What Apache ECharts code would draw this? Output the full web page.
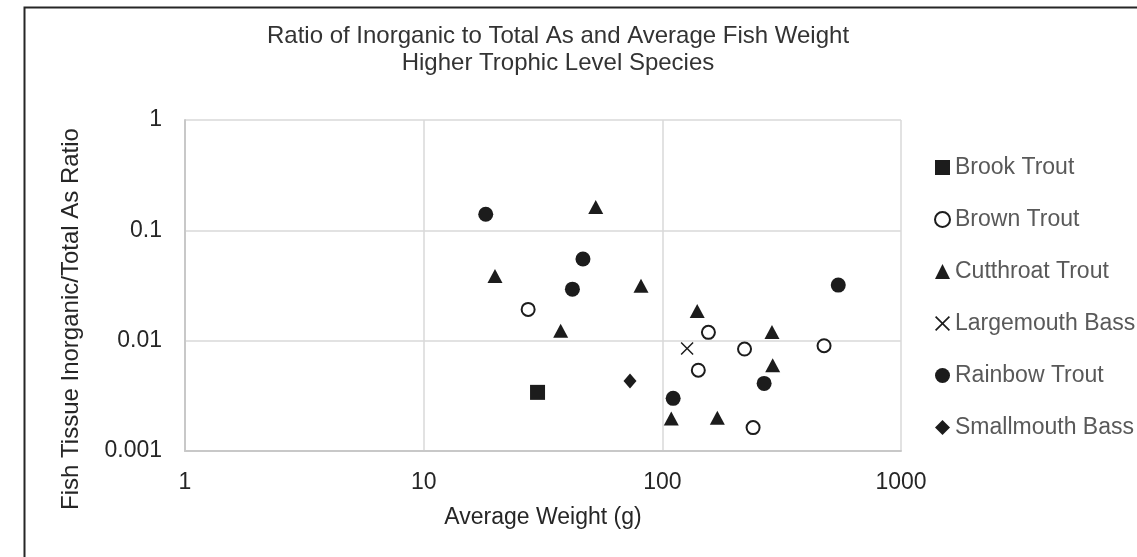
<!DOCTYPE html>
<html>
<head>
<meta charset="utf-8">
<script src="https://cdn.jsdelivr.net/npm/echarts@6/dist/echarts.min.js"></script>
<style>
  html, body { margin: 0; padding: 0; background: #fff; }
  #container { width: 1137px; height: 557px; }
</style>
</head>
<body>
<div id="container"></div>
<script>
// species in legend order
const speciesNames = ['Brook Trout', 'Brown Trout', 'Cutthroat Trout', 'Largemouth Bass', 'Rainbow Trout', 'Smallmouth Bass']

// [average weight (g), inorganic/total As ratio]
const brookTrout = [[30, 0.0034]]
const brownTrout = [[27.4, 0.0192], [141.5, 0.0054], [156, 0.0119], [221, 0.0084], [240, 0.00163], [476, 0.009]]
const cutthroatTrout = [[19.9, 0.0385], [37.5, 0.0123], [52.6, 0.163], [81.4, 0.0314], [109, 0.00197], [140, 0.0186], [170, 0.002], [288, 0.012], [290, 0.006]]
const largemouthBass = [[127, 0.0085]]
const rainbowTrout = [[18.2, 0.14], [42, 0.0293], [46.5, 0.055], [111, 0.003], [267, 0.0041], [546, 0.0319]]
const smallmouthBass = [[73.2, 0.0043]]

const seriesData = [brookTrout, brownTrout, cutthroatTrout, largemouthBass, rainbowTrout, smallmouthBass]

const markColor = '#1c1c1c'
const font = 'Liberation Sans, Arial, sans-serif'
// filled X shape for the largemouth marker
const crossPath = 'path://M0,8L8,0L50,42L92,0L100,8L58,50L100,92L92,100L50,58L8,100L0,92L42,50Z'

const symbols = ['rect', 'circle', 'triangle', crossPath, 'circle', 'diamond']
const sizes = [15, 13, [15, 14], 13, 15, [13, 15]]

let chart = echarts.init(document.getElementById('container'), null, { renderer: 'canvas' })

let series = speciesNames.map(function(name, i) {
  let item = { color: markColor, opacity: 1 }
  // brown trout is drawn as an open circle
  if (i === 1) {
    item = { color: '#fff', borderColor: markColor, borderWidth: 2, opacity: 1 }
  }
  return {
    name: name,
    type: 'scatter',
    data: seriesData[i],
    symbol: symbols[i],
    symbolSize: sizes[i],
    itemStyle: item,
    emphasis: { disabled: true }
  }
})

let option = {
  animation: false,
  backgroundColor: '#fff',
  textStyle: { fontFamily: font },
  graphic: [
    {
      type: 'rect',
      left: 22,
      top: 5,
      shape: { width: 1300, height: 700 },
      style: { fill: 'none', stroke: '#262626', lineWidth: 2 },
      silent: true
    },
    // y axis title, placed by hand (Excel puts it a bit below the plot middle)
    {
      type: 'text',
      x: 71,
      y: 319,
      rotation: Math.PI / 2,
      silent: true,
      style: {
        text: 'Fish Tissue Inorganic/Total As Ratio',
        fontFamily: font,
        fontSize: 24,
        fill: '#262626',
        textAlign: 'center',
        textVerticalAlign: 'middle'
      }
    }
  ],
  title: {
    text: 'Ratio of Inorganic to Total As and Average Fish Weight\nHigher Trophic Level Species',
    left: 553,
    top: 18,
    textAlign: 'center',
    textStyle: {
      fontFamily: font,
      fontSize: 24,
      fontWeight: 'normal',
      color: '#333',
      lineHeight: 27
    }
  },
  legend: {
    orient: 'vertical',
    left: 929,
    top: 151,
    itemGap: 29,
    itemWidth: 15,
    itemHeight: 15,
    data: speciesNames,
    textStyle: { fontFamily: font, fontSize: 23, color: '#595959' }
  },
  grid: {
    left: 185,
    top: 120,
    right: 236,
    bottom: 106
  },
  xAxis: {
    type: 'log',
    logBase: 10,
    min: 1,
    max: 1000,
    name: 'Average Weight (g)',
    nameLocation: 'middle',
    nameGap: 55,
    nameTextStyle: { fontFamily: font, fontSize: 23, color: '#262626' },
    axisLine: { lineStyle: { color: '#c8c8c8', width: 2 } },
    axisTick: { show: false },
    axisLabel: {
      margin: 20,
      fontSize: 23,
      color: '#262626',
      fontFamily: font,
      formatter: function(v) { return String(Math.round(v)) }
    },
    splitLine: { show: true, lineStyle: { color: '#d9d9d9', width: 1.5 } }
  },
  yAxis: {
    type: 'log',
    logBase: 10,
    min: 0.001,
    max: 1,
    axisLine: { show: true, lineStyle: { color: '#c8c8c8', width: 2 } },
    axisTick: { show: false },
    axisLabel: { margin: 23, fontSize: 23, color: '#262626', fontFamily: font },
    splitLine: { show: true, lineStyle: { color: '#d9d9d9', width: 1.5 } }
  },
  series: series
}

option && chart.setOption(option)
</script>
</body>
</html>
